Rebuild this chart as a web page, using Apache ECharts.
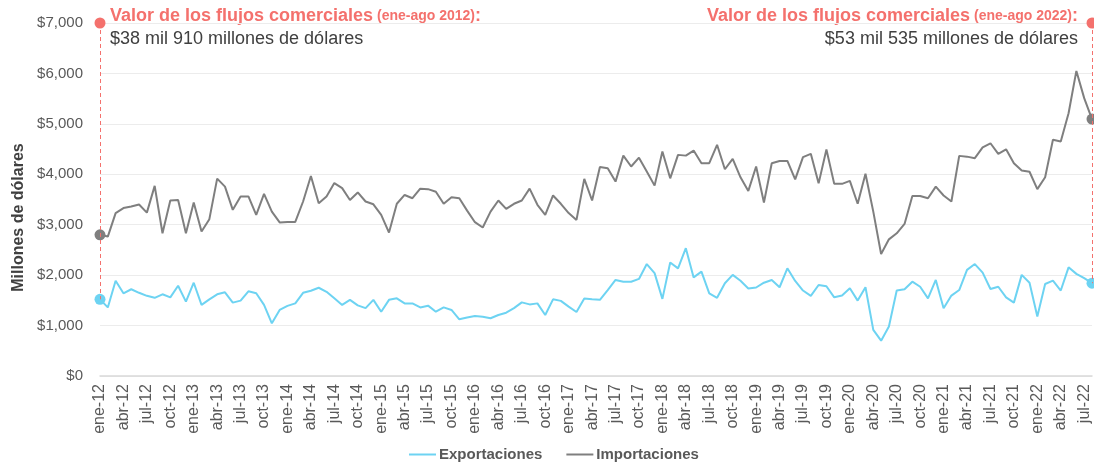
<!DOCTYPE html>
<html>
<head>
<meta charset="utf-8">
<script src="https://cdn.jsdelivr.net/npm/echarts@6/dist/echarts.min.js"></script>
<style>
  html, body { margin: 0; padding: 0; background: #fff; }
  #chart { width: 1094px; height: 463px; }
</style>
</head>
<body>
<div id="chart"></div>
<script>
const MONTHS = ["ene", "feb", "mar", "abr", "may", "jun", "jul", "ago", "sep", "oct", "nov", "dic"];
const YEARS = ["12", "13", "14", "15", "16", "17", "18", "19", "20", "21", "22"];
const LAST_YEAR_MONTHS = 8; // ene-ago 2022

// Millones de dólares, ene-12 .. ago-22
const exportaciones = [
  1520, 1360, 1890, 1640, 1720, 1650, 1590, 1550, 1620, 1560, 1790, 1475,
  1850, 1410, 1520, 1620, 1660, 1455, 1495, 1680, 1640, 1410, 1045, 1310,
  1390, 1440, 1650, 1690, 1750, 1670, 1540, 1410, 1510, 1400, 1345, 1510,
  1275, 1510, 1540, 1440, 1440, 1360, 1395, 1275, 1360, 1310, 1125, 1160,
  1190, 1175, 1145, 1210, 1255, 1345, 1460, 1420, 1440, 1210, 1520, 1490,
  1375, 1270, 1535, 1520, 1510, 1705, 1905, 1870, 1870, 1925, 2220, 2040,
  1530, 2250, 2135, 2535, 1955, 2070, 1640, 1550, 1840, 2005, 1890, 1735,
  1755, 1850, 1905, 1760, 2135, 1885, 1695, 1590, 1805, 1780, 1560, 1595,
  1740, 1495, 1760, 915, 700, 980, 1695, 1720, 1870, 1770, 1540, 1905,
  1345, 1595, 1705, 2105, 2220, 2050, 1725, 1770, 1560, 1455, 2005, 1850,
  1180, 1825, 1890, 1695, 2155, 2025, 1940, 1840
];
const importaciones = [
  2800, 2765, 3230, 3330, 3360, 3400, 3240, 3770, 2830, 3480, 3490, 2830,
  3440, 2865, 3110, 3915, 3755, 3295, 3560, 3560, 3195, 3610, 3260, 3045,
  3055, 3055, 3460, 3965, 3425, 3560, 3825, 3725, 3490, 3640, 3460, 3405,
  3195, 2845, 3415, 3590, 3525, 3715, 3705, 3655, 3415, 3545, 3525, 3280,
  3050, 2945, 3260, 3480, 3315, 3415, 3480, 3715, 3395, 3195, 3580, 3415,
  3230, 3095, 3910, 3480, 4145, 4120, 3855, 4370, 4155, 4330, 4055, 3775,
  4450, 3920, 4385, 4370, 4470, 4220, 4220, 4585, 4100, 4305, 3940, 3670,
  4155, 3440, 4220, 4265, 4265, 3900, 4340, 4405, 3820, 4490, 3810, 3810,
  3870, 3415, 4010, 3260, 2420, 2710, 2830, 3015, 3570, 3570, 3525, 3755,
  3580, 3460, 4365, 4350, 4320, 4535, 4615, 4405, 4495, 4220, 4075, 4050,
  3705, 3940, 4685, 4650, 5210, 6050, 5510, 5095
];

const Y_TICKS = [0, 1000, 2000, 3000, 4000, 5000, 6000, 7000];

const categories = [];
YEARS.forEach((year, yi) => {
  const count = yi === YEARS.length - 1 ? LAST_YEAR_MONTHS : MONTHS.length;
  for (let m = 0; m < count; m++) categories.push(`${MONTHS[m]}-${year}`);
});

const FONT = "Liberation Sans, Arial";
const RED = "#f4716d";
const BLUE = "#6dd3f2";
const GRAY = "#7f7f7f";
const last = categories.length - 1;
const endDot = (value, params) => (params.dataIndex === 0 || params.dataIndex === last ? 11 : 0);

const chart = echarts.init(document.getElementById("chart"), null, { renderer: "canvas" });

chart.setOption({
  animation: false,
  grid: { left: 100, right: 2, top: 23, bottom: 87, containLabel: false },
  legend: {
    top: 442,
    left: 404,
    itemWidth: 27,
    itemHeight: 2,
    itemGap: 24,
    icon: "rect",
    textStyle: { color: "#595959", fontSize: 15, fontWeight: "bold", fontFamily: FONT, padding: [0, 0, 0, -2] },
    data: ["Exportaciones", "Importaciones"]
  },
  xAxis: {
    type: "category",
    boundaryGap: false,
    data: categories,
    axisLine: { lineStyle: { color: "#d9d9d9", width: 1.5 } },
    axisTick: { show: false },
    axisLabel: {
      rotate: 90,
      margin: 8,
      color: "#595959",
      fontSize: 16,
      fontFamily: FONT,
      interval: (index) => index % 3 === 0
    },
    splitLine: { show: false }
  },
  yAxis: {
    type: "value",
    min: Y_TICKS[0],
    max: Y_TICKS[Y_TICKS.length - 1],
    interval: 1000,
    name: "Millones de dólares",
    nameLocation: "middle",
    nameGap: 72,
    nameTextStyle: { color: "#404040", fontSize: 16, fontWeight: "bold", fontFamily: FONT, padding: [0, 36, 0, 0] },
    axisLine: { show: false },
    axisTick: { show: false },
    axisLabel: {
      margin: 17,
      color: "#595959",
      fontSize: 15,
      fontFamily: FONT,
      formatter: (v) => "$" + v.toLocaleString("en-US")
    },
    splitLine: { lineStyle: { color: "#ececec", width: 1 } }
  },
  series: [
    {
      name: "Exportaciones",
      type: "line",
      data: exportaciones,
      color: BLUE,
      lineStyle: { width: 2, color: BLUE },
      symbol: "circle",
      symbolSize: endDot,
      showSymbol: true,
      showAllSymbol: true,
      itemStyle: { color: BLUE },
      z: 3,
      markLine: {
        silent: true,
        symbol: "none",
        label: { show: false },
        lineStyle: { color: RED, type: [4, 3], width: 1 },
        data: [
          [{ coord: [categories[0], Y_TICKS[7]] }, { coord: [categories[0], exportaciones[0]] }],
          [{ coord: [categories[last], Y_TICKS[7]] }, { coord: [categories[last], exportaciones[last]] }]
        ]
      },
      markPoint: {
        silent: true,
        symbol: "circle",
        symbolSize: 11,
        label: { show: false },
        itemStyle: { color: RED },
        data: [
          { coord: [categories[0], Y_TICKS[7]] },
          { coord: [categories[last], Y_TICKS[7]] }
        ]
      }
    },
    {
      name: "Importaciones",
      type: "line",
      data: importaciones,
      color: GRAY,
      lineStyle: { width: 2, color: GRAY },
      symbol: "circle",
      symbolSize: endDot,
      showSymbol: true,
      showAllSymbol: true,
      itemStyle: { color: GRAY },
      z: 2
    }
  ],
  graphic: [
    {
      type: "text",
      left: 110,
      top: 7,
      style: {
        text: "{a|Valor de los flujos comerciales}{b| (ene-ago 2012)}{a|:}\n{c|$38 mil 910 millones de dólares}",
        rich: {
          a: { fill: RED, fontSize: 18, fontWeight: "bold", fontFamily: FONT, lineHeight: 23 },
          b: { fill: RED, fontSize: 14, fontWeight: "bold", fontFamily: FONT, lineHeight: 23 },
          c: { fill: "#404040", fontSize: 18, fontFamily: FONT, lineHeight: 23 }
        }
      }
    },
    {
      type: "text",
      right: 16,
      top: 7,
      style: {
        align: "right",
        text: "{a|Valor de los flujos comerciales}{b| (ene-ago 2022)}{a|:}\n{c|$53 mil 535 millones de dólares}",
        rich: {
          a: { fill: RED, fontSize: 18, fontWeight: "bold", fontFamily: FONT, lineHeight: 23, align: "right" },
          b: { fill: RED, fontSize: 14, fontWeight: "bold", fontFamily: FONT, lineHeight: 23, align: "right" },
          c: { fill: "#404040", fontSize: 18, fontFamily: FONT, lineHeight: 23, align: "right" }
        }
      }
    }
  ]
});
</script>
</body>
</html>
